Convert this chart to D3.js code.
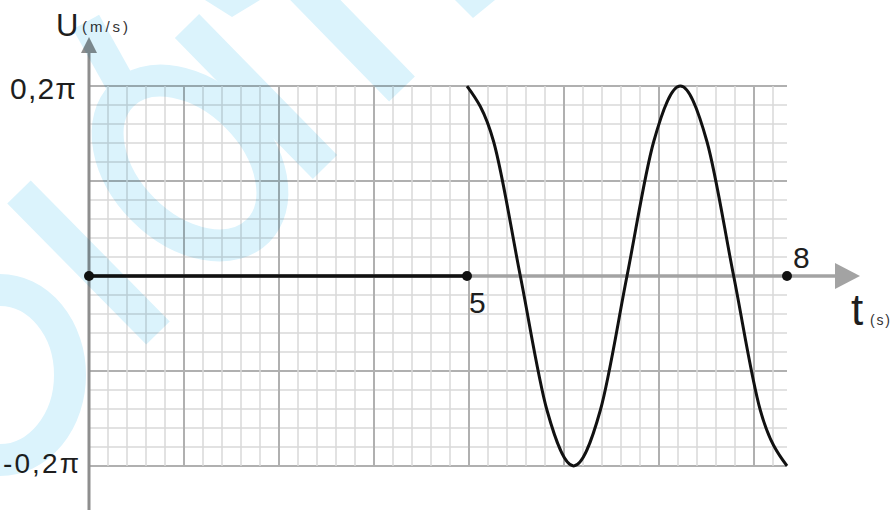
<!DOCTYPE html>
<html><head><meta charset="utf-8">
<script src="https://cdn.jsdelivr.net/npm/d3@7"></script>
<style>
html,body{margin:0;padding:0;background:#fff;}
svg{display:block;font-family:"Liberation Sans",Arial,Helvetica,sans-serif;}
</style></head><body>
<svg id="chart" width="892" height="510"></svg>
<script>
// Time axis breakpoints: the rest interval 0–5 s is drawn compressed, 5–8 s stretched
const timeBreaks = [0, 5, 8];
const uMax = 0.2 * Math.PI;
// Particle at rest until t = 5 s
const restT = [0, 5];
const restU = [0, 0];
// Oscillation from t = 5 s to t = 8 s, read every 0.25 s (m/s)
const waveT = [5, 5.25, 5.5, 5.75, 6, 6.25, 6.5, 6.75, 7, 7.25, 7.5, 7.75, 8];
const waveU = [0.628, 0.444, 0, -0.444, -0.628, -0.444, 0, 0.444, 0.628, 0.444, 0, -0.444, -0.628];
// Marked instants on the time axis
const dotT = [0, 5, 8];
const yTickValues = [uMax, -uMax];
const yTickLabels = ["0,2π", "-0,2π"];
const xTickValues = [5, 8];
const xTickLabels = ["5", "8"];

const svg = d3.select("#chart");
const x = d3.scaleLinear().domain(timeBreaks).range([89, 467, 787]);
const y = d3.scaleLinear().domain([-uMax, uMax]).range([466, 86]);

// Graph paper: minor squares of 0.02π on the velocity axis, major every 5
const step = y(0) - y(uMax / 10);
const grid = svg.append("g");
d3.range(-10, 11).forEach(k => {
  grid.append("line")
    .attr("x1", x(0)).attr("x2", x(8))
    .attr("y1", y(k * uMax / 10)).attr("y2", y(k * uMax / 10))
    .attr("stroke", k % 5 === 0 ? "#b0b0b0" : "#d8d8d8")
    .attr("stroke-width", k % 5 === 0 ? 2 : 1.5);
});
const nCols = Math.floor((x(8) - x(0)) / step + 0.01);
d3.range(0, nCols + 1).forEach(k => {
  const xx = x(0) + k * step;
  grid.append("line")
    .attr("x1", xx).attr("x2", xx)
    .attr("y1", y(uMax)).attr("y2", y(-uMax))
    .attr("stroke", k % 5 === 0 ? "#b0b0b0" : "#d8d8d8")
    .attr("stroke-width", k % 5 === 0 ? 2 : 1.5);
});

// Axes with arrowheads
const axes = svg.append("g");
axes.append("line")
  .attr("x1", x(0)).attr("x2", 838)
  .attr("y1", y(0)).attr("y2", y(0))
  .attr("stroke", "#a3a3a3").attr("stroke-width", 3.5);
axes.append("path")
  .attr("d", `M835,${y(0) - 13}L860,${y(0)}L835,${y(0) + 13}Z`)
  .attr("fill", "#a3a3a3");
axes.append("line")
  .attr("x1", x(0)).attr("x2", x(0))
  .attr("y1", 510).attr("y2", 50)
  .attr("stroke", "#8e8e8e").attr("stroke-width", 3);
axes.append("path")
  .attr("d", `M${x(0) - 8},53L${x(0)},37L${x(0) + 8},53Z`)
  .attr("fill", "#8e8e8e");

// Velocity curve
const line = d3.line().x(d => x(d[0])).y(d => y(d[1]));
svg.append("path")
  .datum(d3.zip(restT, restU))
  .attr("d", line)
  .attr("fill", "none").attr("stroke", "#111").attr("stroke-width", 3.5);
svg.append("path")
  .datum(d3.zip(waveT, waveU))
  .attr("d", line.curve(d3.curveMonotoneX))
  .attr("fill", "none").attr("stroke", "#111").attr("stroke-width", 3);

svg.selectAll("circle.dot").data(dotT).join("circle")
  .attr("class", "dot")
  .attr("cx", d => x(d)).attr("cy", y(0)).attr("r", 5)
  .attr("fill", "#111");

// Labels
const txt = svg.append("g").attr("fill", "#1e1e1e");
txt.append("text").attr("x", 56).attr("y", 36).attr("font-size", 31).text("U");
txt.append("text").attr("x", 82).attr("y", 32).attr("font-size", 15).attr("fill", "#333")
  .attr("textLength", 46).attr("lengthAdjust", "spacing").text("(m/s)");
txt.selectAll("text.ytick").data(yTickValues).join("text")
  .attr("class", "ytick")
  .attr("x", (d, i) => i === 0 ? 10 : 3)
  .attr("y", d => y(d) + (d > 0 ? 13 : 7))
  .attr("font-size", (d, i) => i === 0 ? 30 : 28)
  .attr("textLength", (d, i) => i === 0 ? 66 : 76)
  .attr("lengthAdjust", "spacing")
  .text((d, i) => yTickLabels[i]);
txt.selectAll("text.xtick").data(xTickValues).join("text")
  .attr("class", "xtick")
  .attr("x", d => x(d) + 2 + (d === 8 ? 4 : 0))
  .attr("y", d => d === 8 ? y(0) - 8 : y(0) + 37)
  .attr("font-size", 30)
  .text((d, i) => xTickLabels[i]);
txt.append("text").attr("x", 851).attr("y", 325).attr("font-size", 44).text("t");
txt.append("text").attr("x", 870).attr("y", 325).attr("font-size", 14).attr("fill", "#333")
  .attr("textLength", 20).attr("lengthAdjust", "spacing").text("(s)");

// Faint site mark printed across the paper
const mark = svg.append("g")
  .style("mix-blend-mode", "multiply")
  .attr("fill", "none").attr("stroke", "#dbf3fc");
mark.append("line").attr("x1", 19).attr("y1", 192).attr("x2", 158).attr("y2", 333).attr("stroke-width", 33);
mark.append("ellipse").attr("cx", 0).attr("cy", 375).attr("rx", 70).attr("ry", 85).attr("stroke-width", 32);
mark.append("ellipse").attr("transform", "translate(190,163) rotate(45)")
  .attr("rx", 96).attr("ry", 66).attr("stroke-width", 32);
mark.append("line").attr("x1", 86).attr("y1", 22).attr("x2", 125).attr("y2", 92).attr("stroke-width", 30);
mark.append("line").attr("x1", 187).attr("y1", 26).attr("x2", 325).attr("y2", 167).attr("stroke-width", 34);
mark.append("line").attr("x1", 290).attr("y1", -26).attr("x2", 402).attr("y2", 89).attr("stroke-width", 36);
mark.append("path").attr("d", "M205,0L260,0L232,17Z").attr("fill", "#dbf3fc").attr("stroke", "none");
mark.append("path").attr("d", "M455,0L495,0L473,18Z").attr("fill", "#dbf3fc").attr("stroke", "none");
</script>
</body></html>
